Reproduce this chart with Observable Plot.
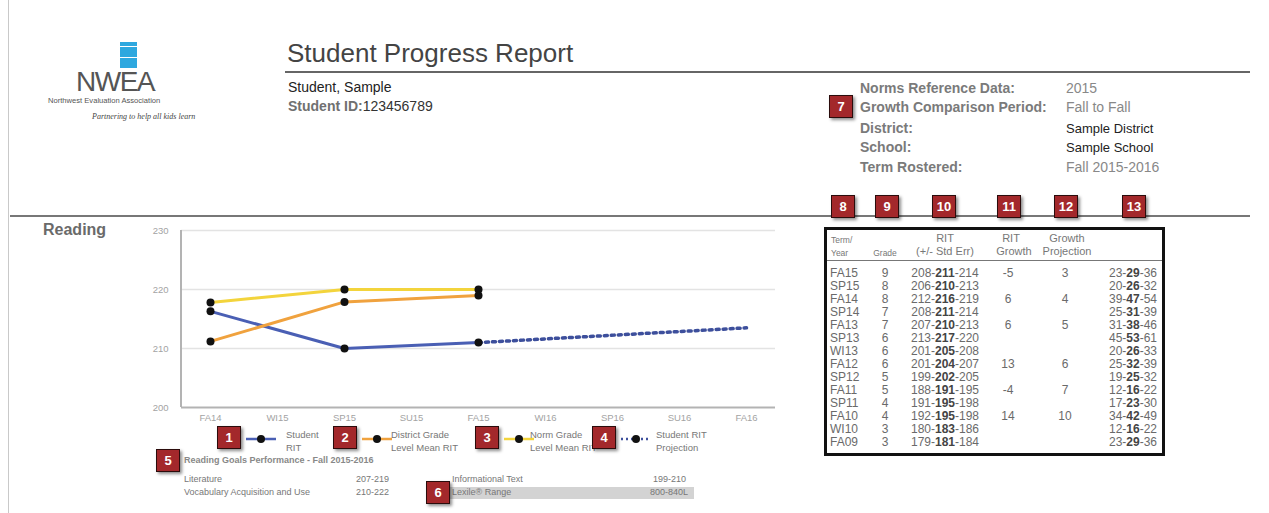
<!DOCTYPE html>
<html><head><meta charset="utf-8">
<script src="https://cdn.jsdelivr.net/npm/d3@7"></script>
<script src="https://cdn.jsdelivr.net/npm/@observablehq/plot@0.6"></script>
<style>
body{margin:0;background:#fff;}
#page{position:relative;width:1269px;height:513px;overflow:hidden;font-family:"Liberation Sans",Arial,sans-serif;background:#fff;}
.a{position:absolute;white-space:nowrap;line-height:1;}
.badge{position:absolute;width:24px;height:23px;background:#a3282b;border:1px solid #2b0c0c;box-sizing:border-box;box-shadow:2px 2px 3px rgba(0,0,0,.45);color:#fff;font:bold 13px "Liberation Sans",Arial,sans-serif;display:flex;align-items:center;justify-content:center;}
.hr{position:absolute;height:2px;background:#666;}
</style></head>
<body><div id="page"></div>
<script>
// ---------- data ----------
const terms = ["FA14","WI15","SP15","SU15","FA15","WI16","SP16","SU16","FA16"];
const observedTerms = ["FA14","SP15","FA15"];
const studentRIT = [216.3, 210, 211];
const districtMeanRIT = [211.2, 217.9, 219];
const normMeanRIT = [217.8, 220, 220];
const projectionTerms = ["FA15","FA16"];
const projectionRIT = [211, 213.5];
const yTicks = [200, 210, 220, 230];

const legendLabels = [["Student","RIT"],["District Grade","Level Mean RIT"],["Norm Grade","Level Mean RIT"],["Student RIT","Projection"]];

const infoLabels = ["Norms Reference Data:","Growth Comparison Period:","District:","School:","Term Rostered:"];
const infoValues = ["2015","Fall to Fall","Sample District","Sample School","Fall 2015-2016"];

const tblTerm = ["FA15","SP15","FA14","SP14","FA13","SP13","WI13","FA12","SP12","FA11","SP11","FA10","WI10","FA09"];
const tblGrade = [9,8,8,7,7,6,6,6,5,5,4,4,3,3];
const tblRitLo = [208,206,212,208,207,213,201,201,199,188,191,192,180,179];
const tblRit   = [211,210,216,211,210,217,205,204,202,191,195,195,183,181];
const tblRitHi = [214,213,219,214,213,220,208,207,205,195,198,198,186,184];
const tblGrowth = [-5,null,6,null,6,null,null,13,null,-4,null,14,null,null];
const tblGrowthProj = [3,null,4,null,5,null,null,6,null,7,null,10,null,null];
const tblPctLo = [23,20,39,25,31,45,20,25,19,12,17,34,12,23];
const tblPct   = [29,26,47,31,38,53,26,32,25,16,23,42,16,29];
const tblPctHi = [36,32,54,39,46,61,33,39,32,22,30,49,22,36];

const goalLeftNames = ["Literature","Vocabulary Acquisition and Use"];
const goalLeftRanges = ["207-219","210-222"];
const goalRightNames = ["Informational Text","Lexile® Range"];
const goalRightRanges = ["199-210","800-840L"];

const colors = {student:"#4a5fb4", district:"#f0a23e", norm:"#f3d43c", projection:"#3d4f9c"};

// ---------- helpers ----------
const page = document.getElementById("page");
function el(tag, css, html){ const e=document.createElement(tag); e.style.cssText=css; if(html!=null) e.innerHTML=html; page.appendChild(e); return e; }
function txt(x,y,s,css){ return el("div",`left:${x}px;top:${y}px;${css||""}`,s).classList.add("a"); }
function badge(x,y,n){ const b=el("div",`left:${x}px;top:${y}px;`,String(n)); b.className="badge"; }

// page frame
el("div","position:absolute;left:8px;top:0;width:1px;height:513px;background:#c9c9c9;");

// logo
el("div","position:absolute;left:120px;top:42px;width:17px;height:4px;background:#2ea8df;");
el("div","position:absolute;left:120px;top:47px;width:17px;height:10px;background:#2ea8df;");
el("div","position:absolute;left:120px;top:58px;width:17px;height:10px;background:#2ea8df;");
txt(76,68,"NWEA<span style='font-size:8px'>.</span>","font-size:28px;color:#555;letter-spacing:-1.5px;");
txt(48,97,"Northwest Evaluation Association","font-size:7.6px;color:#555;");
txt(92,113,"Partnering to help all kids learn","font-family:'Liberation Serif',serif;font-style:italic;font-size:8px;color:#444;");

// title block
txt(287,40,"Student Progress Report","font-size:26px;color:#444;");
el("div","left:285px;top:71px;width:965px;").className="hr";
txt(288,80,"Student, Sample","font-size:14px;color:#222;");
txt(288,99,"<b style='color:#707070'>Student ID:</b><span style='color:#333'>123456789</span>","font-size:14px;");

const infoY = [81,100,121,140,160];
infoLabels.forEach((s,i)=>txt(860,infoY[i],s,"font-size:14px;font-weight:bold;color:#7a7a7a;"));
infoValues.forEach((s,i)=>txt(1066,infoY[i]+(i==2||i==3?1:0),s,(i==2||i==3)?"font-size:13px;color:#222;":"font-size:14px;color:#888;"));
badge(829,95,7);

// second rule
el("div","left:10px;top:215px;width:1240px;background:#777;").className="hr";
txt(43,222,"Reading","font-size:16px;font-weight:bold;color:#6a6a6a;");

// ---------- chart ----------
const seriesRows = [];
observedTerms.forEach((t,i)=>{
  seriesRows.push({series:"student", term:t, rit:studentRIT[i]});
  seriesRows.push({series:"district", term:t, rit:districtMeanRIT[i]});
  seriesRows.push({series:"norm", term:t, rit:normMeanRIT[i]});
});
const projRows = projectionTerms.map((t,i)=>({term:t, rit:projectionRIT[i]}));
const bySeries = s => seriesRows.filter(d=>d.series===s);

const leftAxis = (index, scales, values, dims) => {
  const l = document.createElementNS("http://www.w3.org/2000/svg","line");
  l.setAttribute("x1", dims.marginLeft); l.setAttribute("x2", dims.marginLeft);
  l.setAttribute("y1", scales.y(yTicks[yTicks.length-1])); l.setAttribute("y2", scales.y(yTicks[0]));
  l.setAttribute("stroke","#b3b3b3"); l.setAttribute("stroke-width","2");
  return l;
};

const chart = Plot.plot({
  width: 660, height: 210,
  marginLeft: 51, marginRight: 15, marginTop: 10, marginBottom: 23,
  style: {background:"transparent", fontFamily:"'Liberation Sans',Arial,sans-serif", fontSize:"9.5px", color:"#a3a3a3", overflow:"visible"},
  x: {type:"point", domain: terms, padding: 0.4, tickSize: 0, tickPadding: 7, label: null},
  y: {domain:[yTicks[0], yTicks[yTicks.length-1]], ticks: yTicks, tickSize: 0, tickPadding: 13, label: null},
  marks: [
    Plot.ruleY(yTicks.slice(1), {stroke:"#e3e3e3", strokeWidth:1.5}),
    Plot.ruleY([yTicks[0]], {stroke:"#b3b3b3", strokeWidth:2}),
    leftAxis,
    Plot.line(projRows, {x:"term", y:"rit", stroke:colors.projection, strokeWidth:3.5, strokeDasharray:"3,4"}),
    Plot.line(bySeries("student"), {x:"term", y:"rit", stroke:colors.student, strokeWidth:3}),
    Plot.line(bySeries("district"), {x:"term", y:"rit", stroke:colors.district, strokeWidth:3}),
    Plot.line(bySeries("norm"), {x:"term", y:"rit", stroke:colors.norm, strokeWidth:3}),
    Plot.dot(seriesRows, {x:"term", y:"rit", r:4, fill:"#111", stroke:"none"})
  ]
});
const holder = el("div","position:absolute;left:130px;top:220px;");
holder.appendChild(chart);

// ---------- legend ----------
const legendColors = [colors.student, colors.district, colors.norm, colors.projection];
const badgeX = [217, 333, 475, 592];
const textX = [286, 391, 530, 656];
legendLabels.forEach((lab,i)=>{
  badge(badgeX[i],426,i+1);
  const dash = i===3 ? "stroke-dasharray='2,3'" : "";
  el("div",`position:absolute;left:${badgeX[i]+28}px;top:431px;`,
    `<svg width="32" height="12"><line x1="1" y1="6" x2="31" y2="6" stroke="${legendColors[i]}" stroke-width="2.5" ${dash}/><circle cx="16" cy="6" r="4" fill="#111"/></svg>`);
  txt(textX[i],430,lab[0],"font-size:9.5px;color:#777;");
  txt(textX[i],443,lab[1],"font-size:9.5px;color:#777;");
});

// ---------- goals ----------
badge(156,449,5);
txt(184,456,"Reading Goals Performance - Fall 2015-2016","font-size:9px;font-weight:bold;color:#888;");
el("div","position:absolute;left:447px;top:487px;width:247px;height:12px;background:#d3d3d3;");
[0,1].forEach(i=>{
  const y = 475 + i*13;
  txt(184,y,goalLeftNames[i],"font-size:9px;color:#777;");
  txt(356,y,goalLeftRanges[i],"font-size:9px;color:#777;");
  txt(452,y,goalRightNames[i],"font-size:9px;color:#777;");
  txt(692-(i?42:39),y,goalRightRanges[i],"font-size:9px;color:#777;");
});
badge(426,481,6);

// ---------- table ----------
const colBadgeX = [831, 875, 932, 997, 1054, 1122];
colBadgeX.forEach((x,i)=>badge(x,195,8+i));
const box = el("div","position:absolute;left:824px;top:227px;width:341px;height:229px;border:3px solid #111;box-sizing:border-box;font-family:'Liberation Sans',Arial,sans-serif;");
function bt(x,y,s,css,align){
  const d=document.createElement("div");
  let tr = align==="c" ? "transform:translateX(-50%);" : align==="r" ? "transform:translateX(-100%);" : "";
  d.style.cssText=`position:absolute;left:${x}px;top:${y}px;white-space:nowrap;line-height:1;${tr}${css||""}`;
  d.innerHTML=s; box.appendChild(d);
}
const hs = "font-size:8.5px;color:#777;";
const hb = "font-size:11px;color:#777;";
bt(4,6,"Term/",hs); bt(4,19,"Year",hs);
bt(58,19,"Grade",hs,"c");
bt(118,3,"RIT",hb,"c"); bt(118,16,"(+/- Std Err)",hb,"c");
bt(184,3,"RIT",hb,"c"); bt(187,16,"Growth",hb,"c");
bt(240,3,"Growth",hb,"c"); bt(240,16,"Projection",hb,"c");
const sep=document.createElement("div"); sep.style.cssText="position:absolute;left:0;top:30px;width:100%;height:1px;background:#777;"; box.appendChild(sep);
const rs = "font-size:12px;color:#6a6a6a;";
tblTerm.forEach((t,i)=>{
  const y = 37 + i*13;
  bt(3,y,t,rs);
  bt(58,y,String(tblGrade[i]),rs,"c");
  bt(118,y,`${tblRitLo[i]}-<b style="color:#444">${tblRit[i]}</b>-${tblRitHi[i]}`,rs,"c");
  if(tblGrowth[i]!=null) bt(181,y,String(tblGrowth[i]),rs,"c");
  if(tblGrowthProj[i]!=null) bt(238,y,String(tblGrowthProj[i]),rs,"c");
  bt(330,y,`${tblPctLo[i]}-<b style="color:#444">${tblPct[i]}</b>-${tblPctHi[i]}`,rs,"r");
});
</script>
</body></html>
